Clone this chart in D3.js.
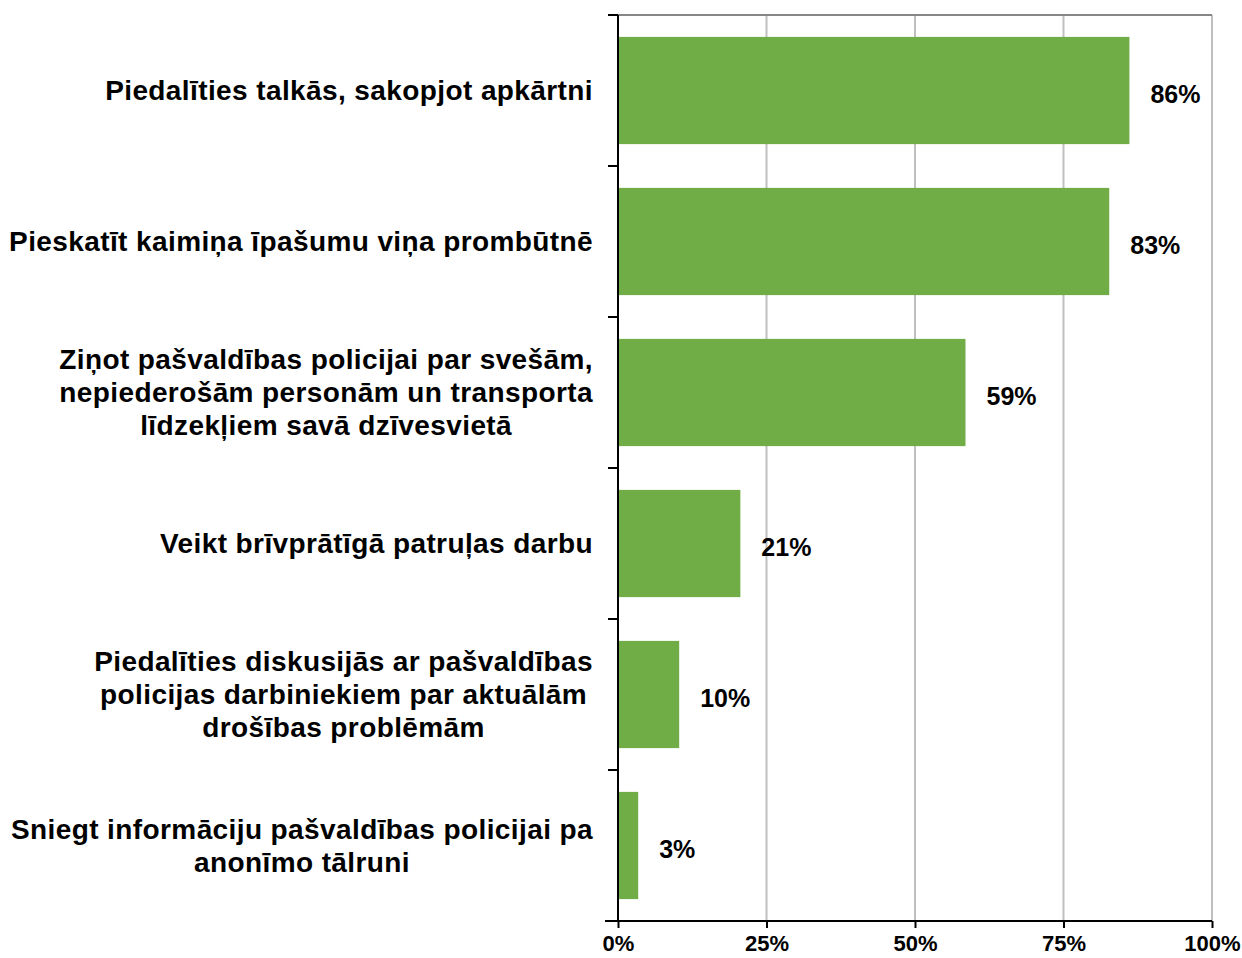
<!DOCTYPE html>
<html>
<head>
<meta charset="utf-8">
<script src="https://cdn.jsdelivr.net/npm/d3@7"></script>
<style>
  body { margin: 0; background: #fff; }
  text { font-family: "Liberation Sans", Arial, sans-serif; font-weight: bold; fill: #000; }
</style>
</head>
<body>
<script>
// categories, each an array of label lines
const categories = [
  ["Piedalīties talkās, sakopjot apkārtni"],
  ["Pieskatīt kaimiņa īpašumu viņa prombūtnē"],
  ["Ziņot pašvaldības policijai par svešām,", "nepiederošām personām un transporta", "līdzekļiem savā dzīvesvietā"],
  ["Veikt brīvprātīgā patruļas darbu"],
  ["Piedalīties diskusijās ar pašvaldības", "policijas darbiniekiem par aktuālām", "drošības problēmām"],
  ["Sniegt informāciju pašvaldības policijai pa", "anonīmo tālruni"]
];
const values = [86.1, 82.7, 58.5, 20.6, 10.3, 3.4];
const xTicks = [0, 25, 50, 75, 100];

const width = 1242, height = 958;
const margin = {top: 15, right: 30, bottom: 37, left: 618};
const innerW = width - margin.left - margin.right;
const innerH = height - margin.top - margin.bottom;

const svg = d3.select("body").append("svg")
  .attr("width", width)
  .attr("height", height);

const g = svg.append("g")
  .attr("transform", "translate(" + margin.left + "," + margin.top + ")");

const x = d3.scaleLinear().domain([0, 100]).range([0, innerW]);
const y = d3.scaleBand()
  .domain(d3.range(categories.length))
  .range([0, innerH])
  .paddingInner(0.29)
  .paddingOuter(0.145);
const step = y.step();

// gridlines
g.selectAll(".grid")
  .data(xTicks.slice(1))
  .enter().append("line")
  .attr("x1", d => x(d)).attr("x2", d => x(d))
  .attr("y1", 0).attr("y2", innerH)
  .attr("stroke", "#bfbfbf")
  .attr("stroke-width", 2);

// top border
g.append("line")
  .attr("x1", 0).attr("x2", innerW)
  .attr("y1", 0).attr("y2", 0)
  .attr("stroke", "#868686")
  .attr("stroke-width", 2);

// bars
g.selectAll(".bar")
  .data(values)
  .enter().append("rect")
  .attr("x", 0)
  .attr("y", (d, i) => y(i))
  .attr("width", d => x(d))
  .attr("height", y.bandwidth())
  .attr("fill", "#70ad47");

// value labels
g.selectAll(".val")
  .data(values)
  .enter().append("text")
  .attr("x", d => x(d) + 21)
  .attr("y", (d, i) => y(i) + y.bandwidth() / 2 + 4)
  .attr("dy", "0.35em")
  .style("font-size", "25px")
  .text(d => Math.round(d) + "%");

// left axis with ticks at band boundaries
g.append("line")
  .attr("x1", 0).attr("x2", 0)
  .attr("y1", 0).attr("y2", innerH)
  .attr("stroke", "#000").attr("stroke-width", 2);
g.selectAll(".ltick")
  .data(d3.range(categories.length + 1))
  .enter().append("line")
  .attr("x1", -10).attr("x2", 0)
  .attr("y1", i => i * step).attr("y2", i => i * step)
  .attr("stroke", "#000").attr("stroke-width", 2);

// bottom axis
const xAxis = g.append("g")
  .attr("transform", "translate(0," + innerH + ")")
  .call(d3.axisBottom(x).tickValues(xTicks).tickFormat(d => d + "%").tickSize(7).tickSizeOuter(0));
xAxis.select(".domain").attr("stroke", "#000").attr("stroke-width", 2).attr("d", "M-13,0H" + innerW);
xAxis.selectAll(".tick line").attr("stroke", "#000").attr("stroke-width", 2);
xAxis.selectAll(".tick text")
  .attr("y", 14)
  .style("font-size", "22px")
  .style("font-family", "'Liberation Sans', Arial, sans-serif")
  .style("font-weight", "bold")
  .attr("fill", "#000");

// category labels: lines centred within a block that is right aligned
const lineH = 33;
const labelRight = -25;
categories.forEach((lines, i) => {
  const cy = y(i) + y.bandwidth() / 2;
  const t = g.append("text")
    .attr("text-anchor", "middle")
    .style("font-size", "28px")
    .style("letter-spacing", "0.4px");
  const spans = lines.map((ln, j) => t.append("tspan")
    .attr("y", cy + (j - (lines.length - 1) / 2) * lineH)
    .attr("dy", "0.35em")
    .text(ln));
  const maxW = d3.max(spans, s => s.node().getComputedTextLength());
  spans.forEach(s => s.attr("x", labelRight - maxW / 2));
});
</script>
</body>
</html>
